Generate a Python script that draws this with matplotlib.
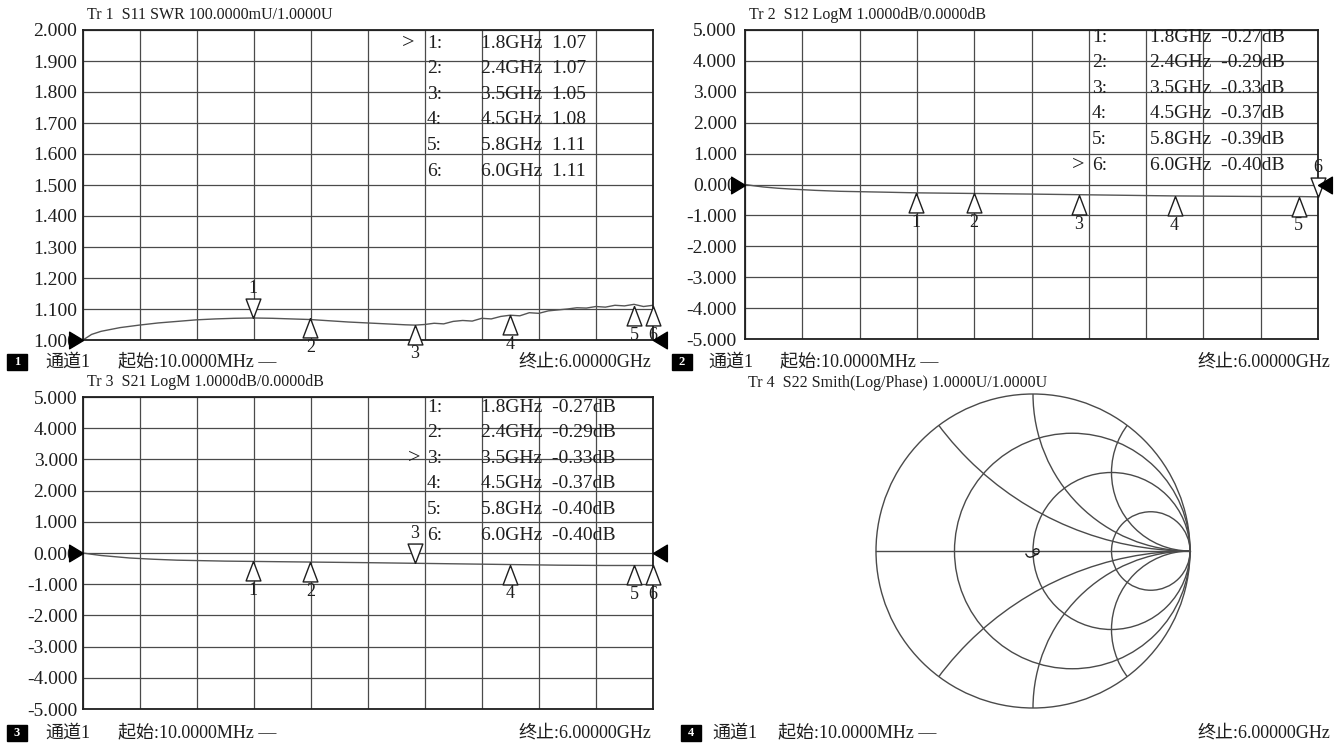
'''
Four-trace VNA screen: S11 SWR, S12 / S21 LogM and S22 Smith chart
'''
import matplotlib
matplotlib.use('Agg')
import matplotlib.pyplot as plt
from matplotlib.patches import Rectangle, Circle
import numpy as np

W, H = 1337, 746
plt.rcParams['font.family'] = ['Liberation Serif', 'Noto Sans CJK SC']

INK = '#1e1e1e'
GRID = '#4a4a4a'
TRACE = '#555555'

# sweep
f_start = 0.01  # GHz
f_stop = 6.0
start_txt = '起始:10.0000MHz —'
stop_txt = '终止:6.00000GHz'

# trace 1: S11 SWR
s11_freq = [0.01, 0.1, 0.2, 0.4, 0.6, 0.8, 1.0, 1.2, 1.4, 1.6, 1.8, 2.0, 2.2,
            2.4, 2.6, 2.8, 3.0, 3.2, 3.4, 3.5, 3.6, 3.7, 3.8, 3.9, 4.0, 4.1,
            4.2, 4.3, 4.4, 4.5, 4.6, 4.7, 4.8, 4.9, 5.0, 5.1, 5.2, 5.3, 5.4,
            5.5, 5.6, 5.7, 5.8, 5.9, 6.0]
s11_swr = [1.000, 1.018, 1.028, 1.040, 1.048, 1.055, 1.060, 1.065, 1.068,
           1.070, 1.071, 1.070, 1.068, 1.066, 1.062, 1.058, 1.055, 1.052,
           1.049, 1.048, 1.050, 1.054, 1.052, 1.060, 1.063, 1.061, 1.070,
           1.068, 1.076, 1.080, 1.078, 1.088, 1.086, 1.094, 1.097, 1.100,
           1.104, 1.103, 1.108, 1.106, 1.112, 1.110, 1.115, 1.108, 1.112]

# trace 2: S12 LogM (dB)
s12_freq = [0.01, 0.1, 0.2, 0.35, 0.5, 0.75, 1.0, 1.5, 1.8, 2.4, 3.0, 3.5,
            4.0, 4.5, 5.0, 5.5, 5.8, 6.0]
s12_db = [0.00, -0.04, -0.08, -0.12, -0.15, -0.19, -0.22, -0.25, -0.27,
          -0.29, -0.31, -0.33, -0.35, -0.37, -0.38, -0.39, -0.39, -0.40]

# trace 3: S21 LogM (dB)
s21_freq = [0.01, 0.1, 0.2, 0.35, 0.5, 0.75, 1.0, 1.5, 1.8, 2.4, 3.0, 3.5,
            4.0, 4.5, 5.0, 5.5, 5.8, 6.0]
s21_db = [0.00, -0.04, -0.08, -0.12, -0.16, -0.20, -0.23, -0.26, -0.27,
          -0.29, -0.31, -0.33, -0.35, -0.37, -0.39, -0.40, -0.40, -0.40]

# markers
mk_freq = [1.8, 2.4, 3.5, 4.5, 5.8, 6.0]
s11_mk = [1.07, 1.07, 1.05, 1.08, 1.11, 1.11]
s12_mk = [-0.27, -0.29, -0.33, -0.37, -0.39, -0.40]
s21_mk = [-0.27, -0.29, -0.33, -0.37, -0.40, -0.40]

# trace 4: S22 reflection coefficient (re, im)
s22_re = [-0.045, -0.035, -0.02, 0.0, 0.015, 0.03, 0.04, 0.035, 0.02,
          0.005, 0.0, 0.01, 0.025]
s22_im = [-0.02, -0.035, -0.04, -0.035, -0.025, -0.02, -0.005, 0.01,
          0.015, 0.008, -0.005, -0.018, -0.02]

# smith grid
smith_r = [1 / 3, 1, 3]
smith_x = [0.5, 1, 2]

fig = plt.figure(figsize=(W / 100, H / 100), dpi=100)


def box(l, t, r, b):
    return [l / W, 1 - b / H, (r - l) / W, (b - t) / H]


def ftext(x, y, s, **kw):
    kw.setdefault('fontsize', 13)
    kw.setdefault('color', INK)
    kw.setdefault('va', 'center')
    fig.text(x / W, 1 - y / H, s, **kw)


def footer(x0, y, num, x_ch, x_start, x_stop):
    fig.add_artist(Rectangle((x0 / W, 1 - (y + 8) / H), 20 / W, 16 / H,
                             transform=fig.transFigure, color='black'))
    ftext(x0 + 10, y, str(num), color='white', fontsize=9, ha='center',
          fontweight='bold')
    ftext(x_ch, y, '通道1')
    ftext(x_start, y, start_txt)
    ftext(x_stop, y, stop_txt, ha='right')


# custom marker shapes, apex sitting on the data point
m_up = [(0, 0), (-0.38, -1), (0.38, -1), (0, 0)]
m_down = [(0, 0), (-0.38, 1), (0.38, 1), (0, 0)]
ref_left = [(0, 0), (-1, 0.6), (-1, -0.6), (0, 0)]
ref_right = [(0, 0), (1, 0.6), (1, -0.6), (0, 0)]


def rect_panel(rect, ylo, yhi, step, ref, freq, vals, mk_vals, active,
               fmt, title, table_x, table_y0, lab_pad):
    ax = fig.add_axes(box(*rect))
    ax.set_xlim(f_start, f_stop)
    ax.set_ylim(ylo, yhi)
    ax.set_xticks(np.linspace(f_start, f_stop, 11))
    yt = np.arange(ylo, yhi + step / 2, step)
    ax.set_yticks(yt)
    ax.set_yticklabels(['%.3f' % v for v in yt], fontsize=14)
    ax.tick_params(length=0, pad=lab_pad, labelbottom=False,
                   labelcolor=INK)
    ax.grid(True, color=GRID, lw=0.9)
    for s in ax.spines.values():
        s.set_color(INK)
        s.set_linewidth(1.3)
    ax.plot(freq, vals, color=TRACE, lw=1.0)

    # reference level arrows
    ax.plot([f_start], [ref], marker=ref_left, ms=20, color='black',
            clip_on=False, zorder=5)
    ax.plot([f_stop], [ref], marker=ref_right, ms=20, color='black',
            clip_on=False, zorder=5)

    for i, (f, v) in enumerate(zip(mk_freq, mk_vals)):
        if i == active:
            ax.plot([f], [v], marker=m_down, ms=28, mfc='white', mec=INK,
                    mew=1.0, clip_on=False, zorder=4)
            ax.annotate(str(i + 1), (f, v), xytext=(0, 15),
                        textcoords='offset points', ha='center',
                        va='bottom', fontsize=13, color=INK)
        else:
            ax.plot([f], [v], marker=m_up, ms=28, mfc='white', mec=INK,
                    mew=1.0, clip_on=False, zorder=4)
            ax.annotate(str(i + 1), (f, v), xytext=(0, -15),
                        textcoords='offset points', ha='center',
                        va='top', fontsize=13, color=INK,
                        annotation_clip=False)

    # marker table
    for i, (f, v) in enumerate(zip(mk_freq, mk_vals)):
        y = table_y0 + 25.6 * i
        if i == active:
            ftext(table_x[0], y, '>', fontsize=16)
        ftext(table_x[1], y, '%d:' % (i + 1), fontsize=14)
        ftext(table_x[2], y, fmt % (f, v), fontsize=14)

    ftext(rect[0] + 4, rect[1] - 15, title, fontsize=11.5)
    return ax


# Tr 1
rect_panel((83, 30, 653, 340), 1.0, 2.0, 0.1, 1.0, s11_freq, s11_swr,
           s11_mk, 0, '%.1fGHz  %.2f', 'Tr 1  S11 SWR 100.0000mU/1.0000U',
           (402, 427, 481), 43, 4)
footer(7, 362, 1, 45, 118, 651)

# Tr 2
rect_panel((745, 30, 1318, 339), -5.0, 5.0, 1.0, 0.0, s12_freq, s12_db,
           s12_mk, 5, '%.1fGHz  %.2fdB', 'Tr 2  S12 LogM 1.0000dB/0.0000dB',
           (1072, 1092, 1150), 37, 6)
footer(672, 362, 2, 708, 780, 1330)

# Tr 3
rect_panel((83, 397, 653, 709), -5.0, 5.0, 1.0, 0.0, s21_freq, s21_db,
           s21_mk, 2, '%.1fGHz  %.2fdB', 'Tr 3  S21 LogM 1.0000dB/0.0000dB',
           (408, 427, 481), 407, 4)
footer(7, 733, 3, 45, 118, 651)

# Tr 4 : Smith chart
cx, cy, rad = 1033, 551, 157
half = 165
sm = fig.add_axes(box(cx - half, cy - half, cx + half, cy + half))
sm.set_xlim(-half / rad, half / rad)
sm.set_ylim(-half / rad, half / rad)
sm.set_aspect('equal')
sm.axis('off')
outer = Circle((0, 0), 1, fill=False, color=GRID, lw=1.0)
sm.add_patch(outer)
sm.plot([-1, 1], [0, 0], color=GRID, lw=1.0)
for r in smith_r:
    sm.add_patch(Circle((r / (1 + r), 0), 1 / (1 + r), fill=False,
                        color=GRID, lw=1.0))
for x in smith_x:
    for sgn in (1, -1):
        arc = Circle((1, sgn / x), 1 / x, fill=False, color=GRID, lw=1.0)
        sm.add_patch(arc)
        arc.set_clip_path(outer)
sm.plot(s22_re, s22_im, color=INK, lw=1.0)
ftext(748, 383, 'Tr 4  S22 Smith(Log/Phase) 1.0000U/1.0000U', fontsize=11.5)
footer(681, 733, 4, 712, 778, 1330)

fig.savefig('out.png', dpi=100, facecolor='white')
